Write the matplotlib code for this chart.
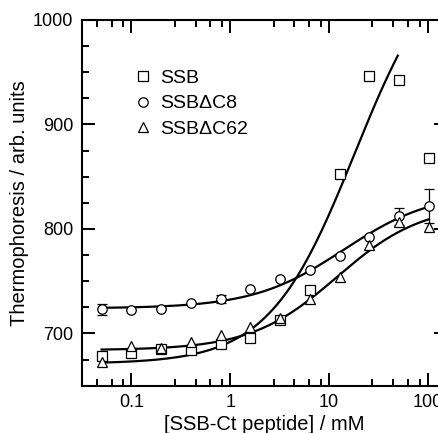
import numpy as np
import matplotlib
matplotlib.use("Agg")
import matplotlib.pyplot as plt
from matplotlib.ticker import FixedLocator, NullFormatter

plt.rcParams['font.family'] = ['Liberation Sans', 'DejaVu Sans']

# ---- data ----
conc = [0.05, 0.1, 0.2, 0.4, 0.8, 1.6, 3.2, 6.4, 12.8, 25.6, 51.2, 102.4]
ssb = [678, 681, 685, 684, 690, 696, 713, 742, 853, 946, 943, 868]
ssb_c8 = [723, 722, 723, 729, 733, 743, 752, 761, 774, 792, 812, 822]
ssb_c8_err = [5, 0, 0, 0, 4, 0, 0, 0, 0, 0, 8.5, 16]
ssb_c62 = [673, 688, 686, 692, 699, 706, 715, 733, 754, 785, 807, 802]

# fitted binding curves (offset, amplitude, K, Hill n, x-range)
fit_ssb = dict(y0=671, A=403, K=18.2, n=1.0, xmax=49.6)
fit_c8 = dict(y0=724, A=112, K=14.0, n=0.95, xmax=102.4)
fit_c62 = dict(y0=684, A=140, K=12.0, n=1.0, xmax=102.4)

labels = ['SSB', 'SSB\u0394C8', 'SSB\u0394C62']
x_ticks = [0.1, 1, 10, 100]
x_ticklabels = ['0.1', '1', '10', '100']
y_ticks = [700, 800, 900, 1000]

def hill(p):
    xs = np.logspace(np.log10(conc[0]), np.log10(p['xmax']), 300)
    return xs, p['y0'] + p['A'] * xs**p['n'] / (p['K']**p['n'] + xs**p['n'])

fig = plt.figure(figsize=(4.39, 4.33), dpi=100)
ax = fig.add_axes([81.5/439, 1-385.7/433, (447-81.5)/439, (385.7-20)/433])

for p in (fit_ssb, fit_c8, fit_c62):
    xs, ys = hill(p)
    ax.plot(xs, ys, color='black', lw=1.6, zorder=2)

mk = dict(ms=6.8, mfc='white', mec='black', mew=0.9, ls='none', zorder=3)
h1, = ax.plot(conc, ssb, marker='s', **mk)
ax.errorbar(conc, ssb_c8, yerr=ssb_c8_err, fmt='none', ecolor='black',
            elinewidth=0.9, capsize=3.6, capthick=0.9, zorder=2.5)
h2, = ax.plot(conc, ssb_c8, marker='o', **mk)
h3, = ax.plot(conc, ssb_c62, marker='^', **dict(mk, ms=7.5))

ax.set_xscale('log')
ax.set_xlim(0.0313, 156)
ax.set_ylim(650, 1000)

ax.xaxis.set_major_locator(FixedLocator(x_ticks))
ax.set_xticklabels(x_ticklabels)
minor = [m * 10.0**e for e in range(-2, 3) for m in (2.75, 4.47, 6.31, 8.32)]
ax.xaxis.set_minor_locator(FixedLocator(minor))
ax.xaxis.set_minor_formatter(NullFormatter())
ax.set_yticks(y_ticks)
ax.yaxis.set_minor_locator(FixedLocator(np.arange(650, 1001, 25)))

ax.tick_params(which='both', direction='in', top=True, right=True, width=1.4,
               labelsize=13, colors='black')
ax.tick_params(which='major', length=9.5, pad=6)
ax.tick_params(which='minor', length=5)
for s in ax.spines.values():
    s.set_linewidth(1.5)

ax.set_xlabel('[SSB-Ct peptide] / mM', fontsize=14.5, labelpad=3)
ax.set_ylabel('Thermophoresis / arb. units', fontsize=14.5, labelpad=3)

ax.legend([h1, h2, h3], labels, loc='upper left', frameon=False, fontsize=14,
          handlelength=1.0, handletextpad=0.38, labelspacing=0.4,
          borderpad=0, borderaxespad=0,
          bbox_to_anchor=(133.3/439, 1-69.5/433), bbox_transform=fig.transFigure)

fig.savefig('out.png', dpi=100)
